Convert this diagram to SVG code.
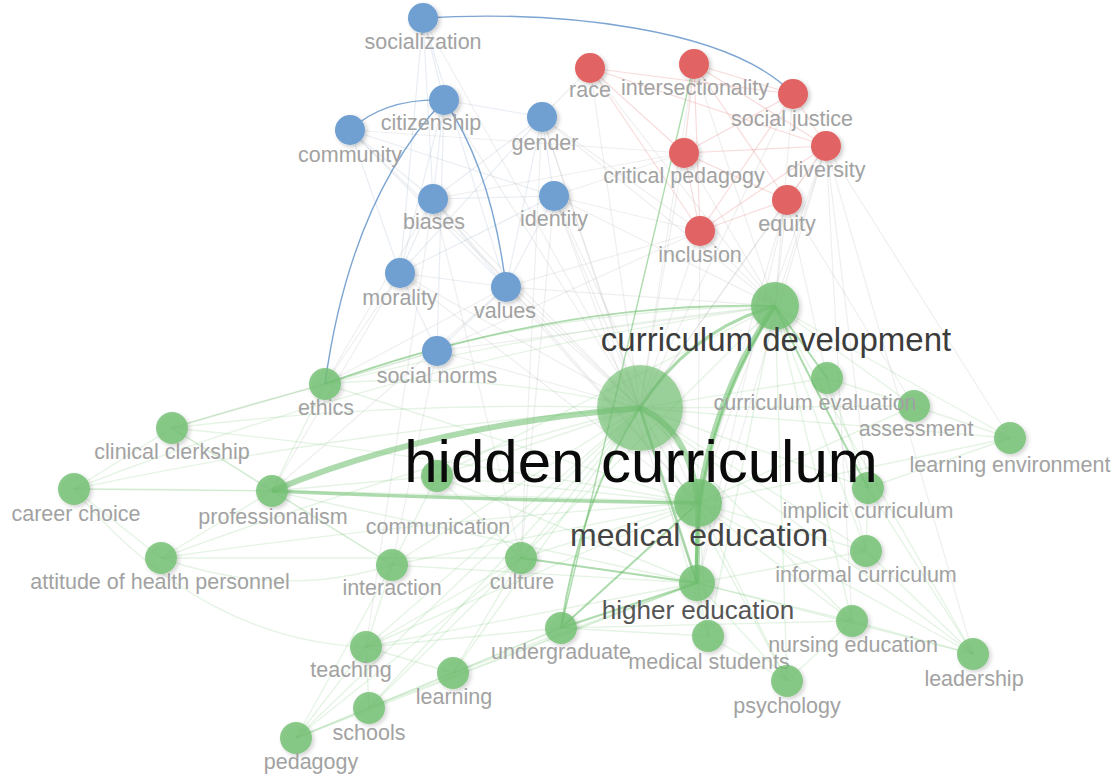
<svg xmlns="http://www.w3.org/2000/svg" width="1118" height="778" viewBox="0 0 1118 778">
<defs>
<filter id="sh" x="-50%" y="-50%" width="200%" height="200%">
<feDropShadow dx="2" dy="2" stdDeviation="2" flood-color="#000" flood-opacity="0.22"/>
</filter>
</defs>
<style>
text{font-family:"Liberation Sans",Arial,sans-serif;text-anchor:middle}
.l{font-size:21.5px;fill:#a2a2a2}
.b{fill:#6f9fd2;filter:url(#sh)}
.r{fill:#e26363;filter:url(#sh)}
.g{fill:#72c072;fill-opacity:.82;filter:url(#sh)}
.fg line,.fg path{stroke:#7cc67c;stroke-opacity:.2;stroke-width:1.4;fill:none}
.fx line{stroke:#b8b8b8;stroke-opacity:.22;stroke-width:1.2}
.fr line{stroke:#e88a8a;stroke-opacity:.3;stroke-width:1.2}
.fb line{stroke:#a8bcd4;stroke-opacity:.25;stroke-width:1.2}
.sg path,.sg line{stroke:#5cb85c;stroke-opacity:.5;fill:none}
.bc{stroke:#5b8fc7;stroke-width:1.4;fill:none;stroke-opacity:.8}
</style>
<rect width="1118" height="778" fill="#fff"/>
<g id="connectors">
<g class="fx">
<line x1="640" y1="408" x2="423" y2="18"/><line x1="640" y1="408" x2="444" y2="100"/><line x1="640" y1="408" x2="350" y2="130"/>
<line x1="640" y1="408" x2="542" y2="117"/><line x1="640" y1="408" x2="433" y2="199"/><line x1="640" y1="408" x2="554" y2="196"/>
<line x1="640" y1="408" x2="400" y2="273"/><line x1="640" y1="408" x2="506" y2="287"/><line x1="640" y1="408" x2="437" y2="351"/>
<line x1="640" y1="408" x2="590" y2="68"/><line x1="640" y1="408" x2="694" y2="64"/><line x1="640" y1="408" x2="684" y2="153"/>
<line x1="640" y1="408" x2="700" y2="231"/><line x1="640" y1="408" x2="787" y2="200"/><line x1="640" y1="408" x2="826" y2="146"/>
<line x1="640" y1="408" x2="793" y2="94"/><line x1="775" y1="306" x2="590" y2="68"/><line x1="775" y1="306" x2="694" y2="64"/>
<line x1="775" y1="306" x2="684" y2="153"/><line x1="775" y1="306" x2="700" y2="231"/><line x1="775" y1="306" x2="787" y2="200"/>
<line x1="775" y1="306" x2="826" y2="146"/><line x1="775" y1="306" x2="793" y2="94"/><line x1="775" y1="306" x2="554" y2="196"/>
<line x1="775" y1="306" x2="542" y2="117"/><line x1="775" y1="306" x2="506" y2="287"/><line x1="775" y1="306" x2="437" y2="351"/>
<line x1="698" y1="503" x2="433" y2="199"/><line x1="698" y1="503" x2="554" y2="196"/><line x1="698" y1="503" x2="506" y2="287"/>
<line x1="698" y1="503" x2="400" y2="273"/><line x1="698" y1="503" x2="826" y2="146"/><line x1="698" y1="503" x2="787" y2="200"/>
<line x1="697" y1="583" x2="826" y2="146"/><line x1="697" y1="583" x2="787" y2="200"/><line x1="697" y1="583" x2="700" y2="231"/>
<line x1="697" y1="583" x2="554" y2="196"/><line x1="697" y1="583" x2="542" y2="117"/><line x1="866" y1="551" x2="787" y2="200"/>
<line x1="852" y1="621" x2="826" y2="146"/><line x1="973" y1="654" x2="826" y2="146"/><line x1="868" y1="488" x2="826" y2="146"/>
<line x1="1010" y1="438" x2="826" y2="146"/><line x1="914" y1="406" x2="787" y2="200"/><line x1="325" y1="384" x2="433" y2="199"/>
<line x1="325" y1="384" x2="400" y2="273"/><line x1="325" y1="384" x2="506" y2="287"/><line x1="272" y1="491" x2="506" y2="287"/>
<line x1="272" y1="491" x2="400" y2="273"/><line x1="172" y1="428" x2="437" y2="351"/><line x1="521" y1="558" x2="542" y2="117"/>
<line x1="521" y1="558" x2="554" y2="196"/><line x1="521" y1="558" x2="433" y2="199"/><line x1="392" y1="565" x2="437" y2="351"/>
<line x1="366" y1="647" x2="433" y2="199"/><line x1="542" y1="117" x2="590" y2="68"/><line x1="554" y1="196" x2="684" y2="153"/>
<line x1="433" y1="199" x2="684" y2="153"/><line x1="350" y1="130" x2="684" y2="153"/><line x1="554" y1="196" x2="700" y2="231"/>
<line x1="542" y1="117" x2="700" y2="231"/><line x1="506" y1="287" x2="700" y2="231"/><line x1="437" y1="351" x2="700" y2="231"/>
</g>
<g class="fb">
<line x1="423" y1="18" x2="444" y2="100"/><line x1="423" y1="18" x2="433" y2="199"/><line x1="423" y1="18" x2="400" y2="273"/>
<line x1="423" y1="18" x2="506" y2="287"/><line x1="444" y1="100" x2="433" y2="199"/><line x1="444" y1="100" x2="400" y2="273"/>
<line x1="444" y1="100" x2="437" y2="351"/><line x1="350" y1="130" x2="433" y2="199"/><line x1="350" y1="130" x2="554" y2="196"/>
<line x1="350" y1="130" x2="506" y2="287"/><line x1="542" y1="117" x2="554" y2="196"/><line x1="542" y1="117" x2="433" y2="199"/>
<line x1="542" y1="117" x2="506" y2="287"/><line x1="542" y1="117" x2="400" y2="273"/><line x1="554" y1="196" x2="433" y2="199"/>
<line x1="554" y1="196" x2="506" y2="287"/><line x1="400" y1="273" x2="506" y2="287"/><line x1="400" y1="273" x2="437" y2="351"/>
<line x1="506" y1="287" x2="437" y2="351"/><line x1="433" y1="199" x2="400" y2="273"/><line x1="433" y1="199" x2="506" y2="287"/>
<line x1="350" y1="130" x2="400" y2="273"/><line x1="554" y1="196" x2="400" y2="273"/><line x1="444" y1="100" x2="542" y2="117"/>
</g>
<g class="fr">
<line x1="590" y1="68" x2="700" y2="231"/><line x1="590" y1="68" x2="684" y2="153"/><line x1="590" y1="68" x2="826" y2="146"/>
<line x1="694" y1="64" x2="684" y2="153"/><line x1="694" y1="64" x2="826" y2="146"/><line x1="694" y1="64" x2="787" y2="200"/>
<line x1="694" y1="64" x2="700" y2="231"/><line x1="793" y1="94" x2="826" y2="146"/><line x1="793" y1="94" x2="684" y2="153"/>
<line x1="793" y1="94" x2="700" y2="231"/><line x1="684" y1="153" x2="826" y2="146"/><line x1="684" y1="153" x2="700" y2="231"/>
<line x1="787" y1="200" x2="700" y2="231"/><line x1="787" y1="200" x2="826" y2="146"/><line x1="826" y1="146" x2="700" y2="231"/>
<line x1="590" y1="68" x2="793" y2="94"/><line x1="694" y1="64" x2="793" y2="94"/><line x1="684" y1="153" x2="787" y2="200"/>
</g>
<g class="fg">
<path d="M640,408 Q480,370 325,384"/><path d="M640,408 Q400,400 172,428"/><path d="M640,408 Q350,430 74,489"/>
<path d="M640,408 Q400,470 161,558"/><line x1="640" y1="408" x2="437" y2="476"/><line x1="640" y1="408" x2="392" y2="565"/>
<line x1="640" y1="408" x2="521" y2="558"/><line x1="640" y1="408" x2="366" y2="647"/><line x1="640" y1="408" x2="453" y2="673"/>
<line x1="640" y1="408" x2="369" y2="708"/><line x1="640" y1="408" x2="296" y2="738"/><line x1="640" y1="408" x2="708" y2="636"/>
<line x1="640" y1="408" x2="787" y2="681"/><line x1="640" y1="408" x2="852" y2="621"/><line x1="640" y1="408" x2="973" y2="654"/>
<line x1="640" y1="408" x2="866" y2="551"/><line x1="640" y1="408" x2="868" y2="488"/><line x1="640" y1="408" x2="1010" y2="438"/>
<line x1="640" y1="408" x2="914" y2="406"/><line x1="640" y1="408" x2="827" y2="378"/>
<path d="M775,306 Q520,310 325,384"/><path d="M775,306 Q450,340 172,428"/><path d="M775,306 Q400,360 74,489"/>
<line x1="775" y1="306" x2="437" y2="476"/><line x1="775" y1="306" x2="521" y2="558"/><line x1="775" y1="306" x2="708" y2="636"/>
<line x1="775" y1="306" x2="852" y2="621"/><line x1="775" y1="306" x2="973" y2="654"/><line x1="775" y1="306" x2="866" y2="551"/>
<line x1="775" y1="306" x2="914" y2="406"/><line x1="775" y1="306" x2="1010" y2="438"/><line x1="775" y1="306" x2="787" y2="681"/>
<path d="M698,503 Q400,450 172,428"/><path d="M698,503 Q380,490 74,489"/><path d="M698,503 Q420,520 161,558"/>
<line x1="698" y1="503" x2="437" y2="476"/><line x1="698" y1="503" x2="392" y2="565"/><line x1="698" y1="503" x2="521" y2="558"/>
<line x1="698" y1="503" x2="366" y2="647"/><line x1="698" y1="503" x2="708" y2="636"/><line x1="698" y1="503" x2="852" y2="621"/>
<line x1="698" y1="503" x2="787" y2="681"/><line x1="698" y1="503" x2="973" y2="654"/><line x1="698" y1="503" x2="866" y2="551"/>
<line x1="698" y1="503" x2="1010" y2="438"/><line x1="698" y1="503" x2="914" y2="406"/><line x1="698" y1="503" x2="325" y2="384"/>
<line x1="697" y1="583" x2="392" y2="565"/><line x1="697" y1="583" x2="366" y2="647"/><line x1="697" y1="583" x2="453" y2="673"/>
<line x1="697" y1="583" x2="369" y2="708"/><line x1="697" y1="583" x2="296" y2="738"/><line x1="697" y1="583" x2="708" y2="636"/>
<line x1="697" y1="583" x2="852" y2="621"/><line x1="697" y1="583" x2="866" y2="551"/><line x1="697" y1="583" x2="787" y2="681"/>
<line x1="697" y1="583" x2="973" y2="654"/><line x1="697" y1="583" x2="437" y2="476"/><line x1="697" y1="583" x2="272" y2="491"/>
<line x1="366" y1="647" x2="296" y2="738"/><line x1="366" y1="647" x2="369" y2="708"/><line x1="366" y1="647" x2="453" y2="673"/>
<line x1="366" y1="647" x2="392" y2="565"/><line x1="366" y1="647" x2="521" y2="558"/><line x1="366" y1="647" x2="561" y2="628"/>
<line x1="296" y1="738" x2="369" y2="708"/><line x1="296" y1="738" x2="521" y2="558"/><line x1="296" y1="738" x2="392" y2="565"/>
<line x1="296" y1="738" x2="453" y2="673"/><line x1="453" y1="673" x2="521" y2="558"/><line x1="453" y1="673" x2="561" y2="628"/>
<line x1="369" y1="708" x2="521" y2="558"/><line x1="369" y1="708" x2="561" y2="628"/><line x1="74" y1="489" x2="272" y2="491"/>
<line x1="74" y1="489" x2="172" y2="428"/><line x1="74" y1="489" x2="161" y2="558"/><line x1="172" y1="428" x2="272" y2="491"/>
<line x1="272" y1="491" x2="325" y2="384"/><line x1="272" y1="491" x2="437" y2="476"/><line x1="161" y1="558" x2="272" y2="491"/>
<path d="M161,558 Q280,600 392,565"/><path d="M74,489 Q200,640 366,647"/><line x1="325" y1="384" x2="437" y2="351"/>
<line x1="437" y1="476" x2="392" y2="565"/><line x1="437" y1="476" x2="521" y2="558"/><line x1="852" y1="621" x2="973" y2="654"/>
<line x1="852" y1="621" x2="787" y2="681"/><line x1="866" y1="551" x2="868" y2="488"/><line x1="868" y1="488" x2="1010" y2="438"/>
<line x1="914" y1="406" x2="827" y2="378"/><line x1="973" y1="654" x2="866" y2="551"/><line x1="973" y1="654" x2="868" y2="488"/>
<line x1="787" y1="681" x2="708" y2="636"/><line x1="561" y1="628" x2="708" y2="636"/><line x1="561" y1="628" x2="852" y2="621"/>
<line x1="272" y1="491" x2="392" y2="565"/><line x1="172" y1="428" x2="392" y2="565"/><line x1="161" y1="558" x2="521" y2="558"/>
<line x1="325" y1="384" x2="172" y2="428"/><line x1="1010" y1="438" x2="914" y2="406"/><line x1="827" y1="378" x2="868" y2="488"/>
</g>
<g class="sg">
<path d="M272,491 Q430,425 640,408" stroke-width="6"/>
<path d="M272,491 Q480,500 698,503" stroke-width="3.5"/>
<path d="M640,408 Q690,430 698,503" stroke-width="6"/>
<path d="M640,408 Q690,330 775,306" stroke-width="3"/>
<path d="M775,306 Q715,390 698,503" stroke-width="5"/>
<path d="M775,306 Q690,440 697,583" stroke-width="3"/>
<line x1="698" y1="503" x2="697" y2="583" stroke-width="5"/>
<path d="M640,408 Q670,500 697,583" stroke-width="2.5"/>
<path d="M640,408 Q580,500 561,628" stroke-width="2"/>
<line x1="698" y1="503" x2="561" y2="628" stroke-width="2"/>
<line x1="697" y1="583" x2="561" y2="628" stroke-width="2"/>
<line x1="697" y1="583" x2="521" y2="558" stroke-width="2"/>
<path d="M775,306 Q820,400 868,488" stroke-width="2"/>
<path d="M775,306 Q800,340 827,378" stroke-width="2"/>
<path d="M775,306 Q560,300 325,384" stroke-width="1.6"/>
<path d="M694,64 Q630,340 561,628" stroke-width="1.4" stroke-opacity=".6"/>
</g>
<path class="bc" d="M423,18 C560,10 730,28 793,94"/>
<path class="bc" d="M350,130 Q385,98 444,100"/>
<path class="bc" d="M444,100 Q350,200 325,384"/>
<path class="bc" d="M444,100 Q492,170 506,287"/>
</g>
<g id="n-socialization"><circle class="b" cx="423" cy="18" r="15"/><text class="l" x="423" y="49">socialization</text></g>
<g id="n-citizenship"><circle class="b" cx="444" cy="100" r="15"/><text class="l" x="431" y="130">citizenship</text></g>
<g id="n-community"><circle class="b" cx="350" cy="130" r="15"/><text class="l" x="350" y="162">community</text></g>
<g id="n-gender"><circle class="b" cx="542" cy="117" r="15"/><text class="l" x="545" y="150">gender</text></g>
<g id="n-biases"><circle class="b" cx="433" cy="199" r="15"/><text class="l" x="434" y="229">biases</text></g>
<g id="n-identity"><circle class="b" cx="554" cy="196" r="15"/><text class="l" x="554" y="226">identity</text></g>
<g id="n-morality"><circle class="b" cx="400" cy="273" r="15"/><text class="l" x="400" y="305">morality</text></g>
<g id="n-values"><circle class="b" cx="506" cy="287" r="15"/><text class="l" x="505" y="318">values</text></g>
<g id="n-social-norms"><circle class="b" cx="437" cy="351" r="15"/><text class="l" x="437" y="383">social norms</text></g>
<g id="n-race"><circle class="r" cx="590" cy="68" r="15"/><text class="l" x="590" y="97">race</text></g>
<g id="n-intersectionality"><circle class="r" cx="694" cy="64" r="15"/><text class="l" x="695" y="95">intersectionality</text></g>
<g id="n-social-justice"><circle class="r" cx="793" cy="94" r="15"/><text class="l" x="792" y="126">social justice</text></g>
<g id="n-critical-pedagogy"><circle class="r" cx="684" cy="153" r="15"/><text class="l" x="684" y="183">critical pedagogy</text></g>
<g id="n-diversity"><circle class="r" cx="826" cy="146" r="15"/><text class="l" x="826" y="177">diversity</text></g>
<g id="n-equity"><circle class="r" cx="787" cy="200" r="15"/><text class="l" x="787" y="231">equity</text></g>
<g id="n-inclusion"><circle class="r" cx="700" cy="231" r="15"/><text class="l" x="700" y="262">inclusion</text></g>
<g id="n-ethics"><circle class="g" cx="325" cy="384" r="16"/><text class="l" x="326" y="415">ethics</text></g>
<g id="n-clinical-clerkship"><circle class="g" cx="172" cy="428" r="16"/><text class="l" x="172" y="459">clinical clerkship</text></g>
<g id="n-career-choice"><circle class="g" cx="74" cy="489" r="16"/><text class="l" x="76" y="521">career choice</text></g>
<g id="n-professionalism"><circle class="g" cx="272" cy="491" r="16"/><text class="l" x="273" y="524">professionalism</text></g>
<g id="n-communication"><circle class="g" cx="437" cy="476" r="16"/><text class="l" x="438" y="534">communication</text></g>
<g id="n-attitude-of-health-personnel"><circle class="g" cx="161" cy="558" r="16"/><text class="l" x="160" y="589">attitude of health personnel</text></g>
<g id="n-interaction"><circle class="g" cx="392" cy="565" r="16"/><text class="l" x="392" y="595">interaction</text></g>
<g id="n-culture"><circle class="g" cx="521" cy="558" r="16"/><text class="l" x="522" y="589">culture</text></g>
<g id="n-teaching"><circle class="g" cx="366" cy="647" r="16"/><text class="l" x="351" y="677">teaching</text></g>
<g id="n-learning"><circle class="g" cx="453" cy="673" r="16"/><text class="l" x="454" y="704">learning</text></g>
<g id="n-schools"><circle class="g" cx="369" cy="708" r="16"/><text class="l" x="369" y="740">schools</text></g>
<g id="n-pedagogy"><circle class="g" cx="296" cy="738" r="16"/><text class="l" x="311" y="769">pedagogy</text></g>
<g id="n-undergraduate"><circle class="g" cx="561" cy="628" r="16"/><text class="l" x="561" y="659">undergraduate</text></g>
<g id="n-medical-students"><circle class="g" cx="708" cy="636" r="16"/><text class="l" x="709" y="669">medical students</text></g>
<g id="n-psychology"><circle class="g" cx="787" cy="681" r="16"/><text class="l" x="787" y="713">psychology</text></g>
<g id="n-nursing-education"><circle class="g" cx="852" cy="621" r="16"/><text class="l" x="853" y="652">nursing education</text></g>
<g id="n-leadership"><circle class="g" cx="973" cy="654" r="16"/><text class="l" x="974" y="686">leadership</text></g>
<g id="n-informal-curriculum"><circle class="g" cx="866" cy="551" r="16"/><text class="l" x="866" y="582">informal curriculum</text></g>
<g id="n-learning-environment"><circle class="g" cx="1010" cy="438" r="16"/><text class="l" x="1010" y="472">learning environment</text></g>
<g id="n-assessment"><circle class="g" cx="914" cy="406" r="16"/><text class="l" x="916" y="436">assessment</text></g>
<g id="n-curriculum-evaluation"><circle class="g" cx="827" cy="378" r="16"/><text class="l" x="815" y="410">curriculum evaluation</text></g>
<g id="n-higher-education"><circle class="g" cx="697" cy="583" r="18"/><text x="698" y="619" style="font-size:26px;fill:#555">higher education</text></g>
<g id="n-implicit-curriculum"><circle class="g" cx="868" cy="488" r="16"/><text class="l" x="868" y="518">implicit curriculum</text></g>
<g id="n-medical-education"><circle class="g" cx="698" cy="503" r="24"/><text x="699" y="546" style="font-size:32px;fill:#444">medical education</text></g>
<g id="n-curriculum-development"><circle class="g" cx="775" cy="306" r="24"/><text x="776" y="351" style="font-size:33px;fill:#3c3c3c">curriculum development</text></g>
<g id="n-hidden-curriculum"><circle class="g" cx="640" cy="408" r="43" style="fill-opacity:.65"/><text x="641" y="482" style="font-size:60px;fill:#0a0a0a">hidden curriculum</text></g>
</svg>
